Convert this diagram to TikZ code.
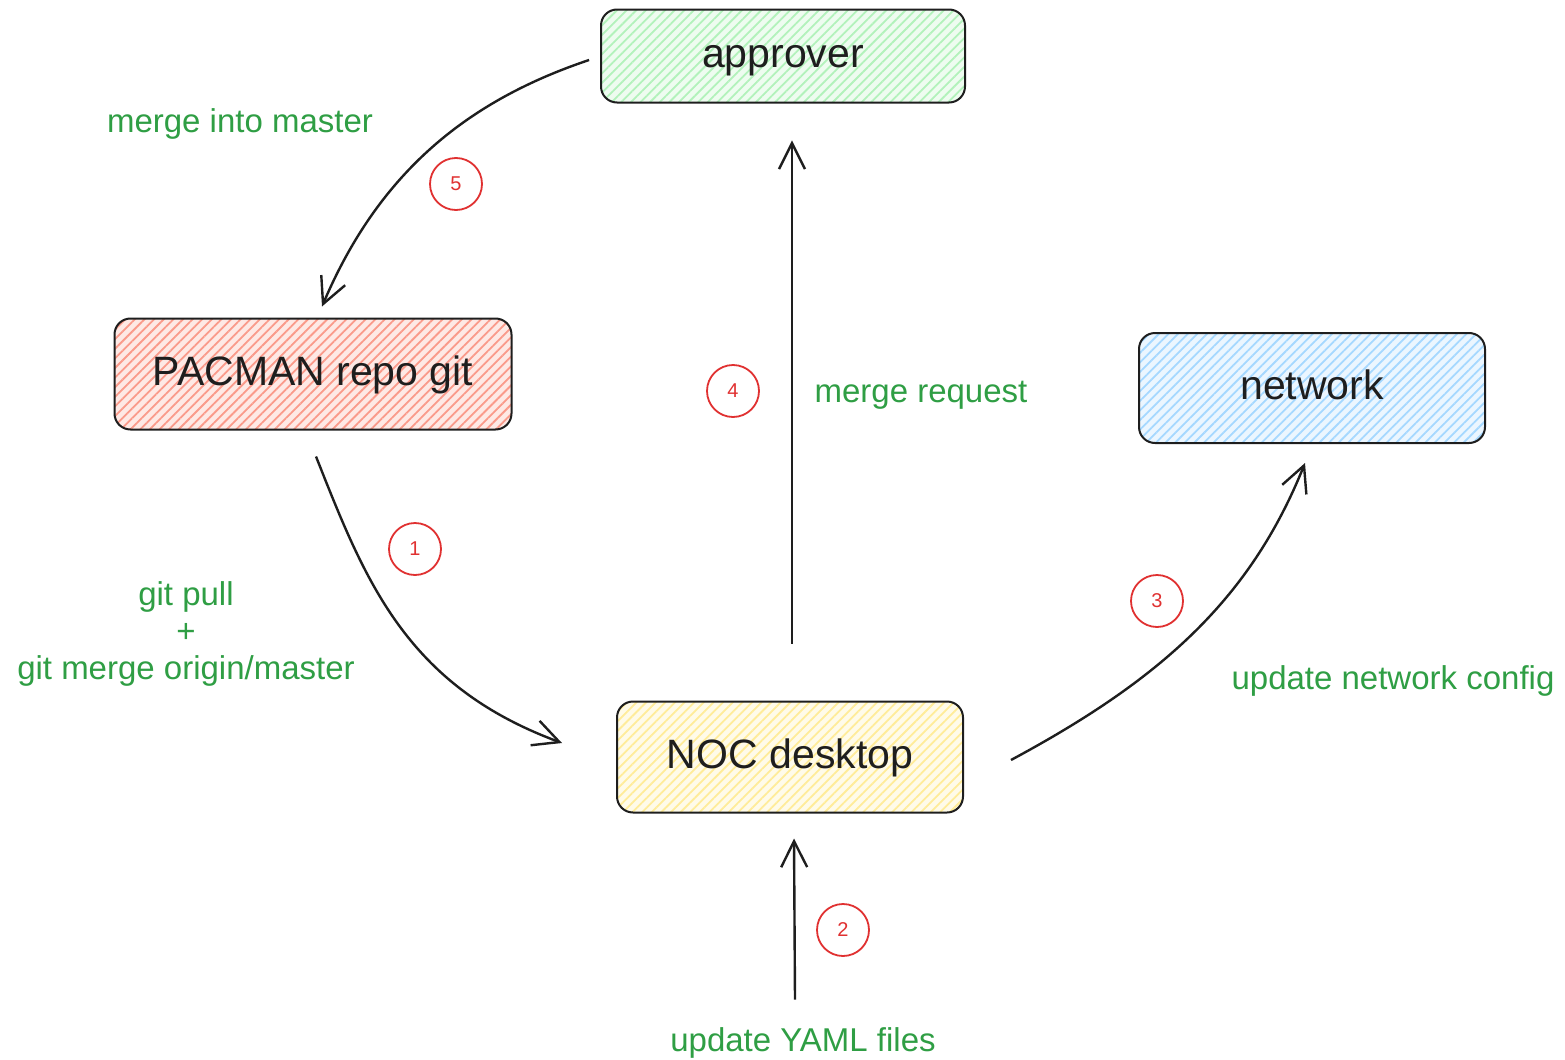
\documentclass[tikz,border=0pt]{standalone}
\usepackage{fontspec}
\setmainfont{Liberation Sans}
\usetikzlibrary{arrows.meta,patterns.meta,calc}

\definecolor{ink}{HTML}{1E1E1E}
\definecolor{labelgreen}{HTML}{2F9E44}
\definecolor{markred}{HTML}{E03131}
\definecolor{greenhatch}{HTML}{B2F2BB}
\definecolor{redhatch}{HTML}{FA9A8A}
\definecolor{bluehatch}{HTML}{A5D8FF}
\definecolor{yellowhatch}{HTML}{FFEC99}

\tikzset{
  box/.style={draw=ink, line width=1pt, rounded corners=8pt,
    text=ink, font=\fontsize{20.5}{24}\selectfont,
    text height=15.4pt, text depth=4.1pt},
  hatched/.style={box, preaction={fill=#1!22},
    pattern={Lines[angle=45,distance=3.4pt,line width=0.9pt]},
    pattern color=#1},
  conn/.style={draw=ink, line width=1.2pt,
    -{Straight Barb[length=13pt,width=13pt,line width=1.2pt]}},
  note/.style={text=labelgreen, font=\fontsize{16.5}{18.5}\selectfont, align=center},
  stepmark/.style={circle, draw=markred, line width=0.9pt, minimum size=26pt,
    inner sep=0pt, text=markred, font=\fontsize{10}{11}\selectfont},
}

\begin{document}
\begin{tikzpicture}[x=0.5pt, y=-0.5pt]
  \path[use as bounding box] (0,0) rectangle (1565,1060);

  % boxes
  \node[hatched=greenhatch,  minimum width=182pt,   minimum height=46.5pt] (approver) at (783,56)  {approver};
  \node[hatched=redhatch,    minimum width=198.5pt, minimum height=55.5pt] (pacman)   at (313,374) {PACMAN repo git};
  \node[hatched=bluehatch,   minimum width=173pt,   minimum height=55pt]   (network)  at (1312,388) {network};
  \node[hatched=yellowhatch, minimum width=173pt,   minimum height=55.5pt] (noc)      at (790,757) {NOC desktop};

  % labels
  \node[note] (lblmerge)   at (240,124)  {merge into master};
  \node[note] (lblmr)      at (921,395)  {merge request};
  \node[note] (lblnet)     at (1393,681) {update network config};
  \node[note] (lblyaml)    at (803,1043) {update YAML files};
  \node[note] (lblpull)    at (186,634)  {git pull\\+\\git merge origin/master};

  % step markers
  \node[stepmark] (s1) at (415,549) {1};
  \node[stepmark] (s2) at (843,930) {2};
  \node[stepmark] (s3) at (1157,601) {3};
  \node[stepmark] (s4) at (733,391) {4};
  \node[stepmark] (s5) at (456,184) {5};

  % connectors
  \draw[conn] ([shift={(3,26)}]pacman.south)
      .. controls (365,580) and (405,685) .. ([shift={(-54,-14)}]noc.west);
  \draw[conn] ([shift={(-8,-21)}]lblyaml.north) -- ([shift={(4,25)}]noc.south);
  \draw[conn] ([shift={(47,3)}]noc.east)
      .. controls (1160,680) and (1250,600) .. ([shift={(-7,19)}]network.south);
  \draw[conn] ([shift={(2,-57)}]noc.north) -- ([shift={(9,37)}]approver.south);
  \draw[conn] ([shift={(-11,4)}]approver.west)
      .. controls (470,100) and (380,170) .. ([shift={(9,-11)}]pacman.north);
\end{tikzpicture}
\end{document}
